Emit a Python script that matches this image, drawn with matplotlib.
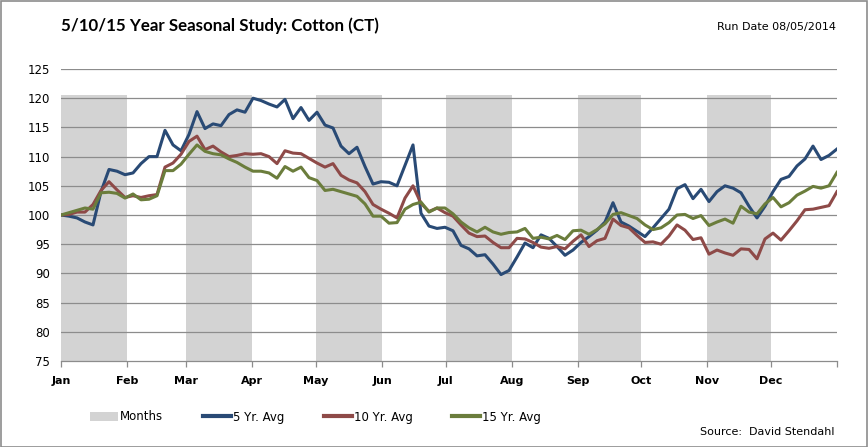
import numpy as np
import matplotlib
matplotlib.use("Agg")
import matplotlib.pyplot as plt
from matplotlib.patches import Rectangle

# ---------------- data ----------------
month_labels = ["Jan", "Feb", "Mar", "Apr", "May", "Jun",
                "Jul", "Aug", "Sep", "Oct", "Nov", "Dec"]
month_days = [31, 28, 31, 30, 31, 30, 31, 31, 30, 31, 30, 31]
shaded_months = ["Jan", "Mar", "May", "Jul", "Sep", "Nov"]
shade_level = 120.5

avg5 = [100.0, 99.8, 99.5, 98.8, 98.3, 104.0, 107.8, 107.5, 106.9, 107.2,
        108.8, 110.0, 110.0, 114.5, 112.0, 111.0, 113.8, 117.7, 114.8, 115.6,
        115.3, 117.2, 118.0, 117.6, 120.0, 119.6, 119.0, 118.5, 119.8, 116.5,
        118.4, 116.2, 117.6, 115.4, 114.9, 111.8, 110.5, 111.6, 108.3, 105.3,
        105.7, 105.6, 105.0, 108.5, 112.0, 100.3, 98.1, 97.7, 97.9, 97.3,
        94.8, 94.2, 93.0, 93.2, 91.6, 89.8, 90.5, 92.8, 95.2, 94.4,
        96.6, 96.0, 94.6, 93.1, 94.0, 95.3, 96.3, 97.4, 98.8, 102.1,
        98.8, 98.1, 97.2, 96.3, 97.8, 99.4, 101.0, 104.5, 105.2, 102.8,
        104.4, 102.3, 104.0, 105.0, 104.6, 103.8, 101.5, 99.5, 101.5, 104.0,
        106.1, 106.6, 108.4, 109.6, 111.8, 109.5, 110.2, 111.3]

avg10 = [100.0, 100.1, 100.5, 100.5, 101.8, 104.2, 105.7, 104.3, 103.0, 103.3,
         103.0, 103.3, 103.5, 108.2, 108.9, 110.4, 112.6, 113.5, 111.2, 111.8,
         110.8, 110.0, 110.2, 110.5, 110.4, 110.5, 110.0, 108.8, 111.0, 110.6,
         110.5, 109.7, 108.9, 108.2, 108.8, 106.8, 106.0, 105.5, 104.0, 101.8,
         101.0, 100.3, 99.5, 102.9, 105.0, 102.0, 100.6, 101.2, 100.4, 99.8,
         98.3, 96.9, 96.3, 96.4, 95.3, 94.4, 94.4, 96.0, 95.9, 95.3,
         94.5, 94.3, 94.6, 94.2, 95.5, 96.6, 94.6, 95.6, 96.0, 99.3,
         98.2, 97.8, 96.5, 95.3, 95.4, 95.0, 96.4, 98.3, 97.4, 95.8,
         96.1, 93.3, 94.0, 93.5, 93.1, 94.2, 94.1, 92.5, 95.9, 96.9,
         95.7, 97.3, 99.0, 100.9, 101.0, 101.3, 101.6, 104.0]

avg15 = [100.0, 100.4, 100.8, 101.2, 101.0, 103.8, 103.9, 103.7, 102.9, 103.6,
         102.6, 102.7, 103.3, 107.6, 107.6, 108.7, 110.4, 112.0, 110.9, 110.5,
         110.3, 109.6, 109.0, 108.2, 107.5, 107.5, 107.2, 106.3, 108.3, 107.5,
         108.2, 106.4, 105.9, 104.2, 104.4, 104.0, 103.6, 103.2, 101.9, 99.8,
         99.8, 98.6, 98.7, 101.0, 101.8, 102.2, 100.5, 101.2, 101.2, 100.2,
         98.8, 97.8, 97.1, 97.9, 97.1, 96.7, 97.0, 97.1, 97.7, 96.0,
         96.2, 95.9, 96.5, 95.8, 97.3, 97.4, 96.7, 97.5, 98.5, 100.1,
         100.4, 99.9, 99.4, 98.3, 97.5, 97.8, 98.7, 100.0, 100.1, 99.4,
         99.9, 98.2, 98.8, 99.3, 98.6, 101.5, 100.5, 100.2, 101.9, 103.0,
         101.4, 102.1, 103.4, 104.1, 104.9, 104.6, 105.0, 107.3]

series_names = ["5 Yr. Avg", "10 Yr. Avg", "15 Yr. Avg"]
series_colors = ["#294A75", "#8E4A48", "#6B7D3C"]

# ---------------- figure ----------------
W, H = 868, 447
fig = plt.figure(figsize=(W / 100, H / 100), dpi=100)
ax = fig.add_axes([61 / W, 1 - 361 / H, (837 - 61) / W, (361 - 69) / H])

month_starts = np.concatenate([[0], np.cumsum(month_days)[:-1]])
year_len = float(np.sum(month_days))
days = np.linspace(0, year_len, len(avg5))

# shaded month bars
sh_idx = [month_labels.index(m) for m in shaded_months]
ax.bar([month_starts[i] for i in sh_idx],
       [shade_level - 75] * len(sh_idx), bottom=75,
       width=[month_days[i] for i in sh_idx], align="edge",
       color="#D3D3D3", edgecolor="none", zorder=1, label="Months")

# gridlines
for v in range(80, 126, 5):
    ax.axhline(v, color="#8C8C8C", lw=0.9, zorder=2)

for vals, name, col in zip([avg5, avg10, avg15], series_names, series_colors):
    ax.plot(days, vals, color=col, lw=2.2, zorder=3, label=name,
            solid_joinstyle="round")

ax.set_xlim(0, year_len)
ax.set_ylim(75, 125)
ax.set_yticks(range(75, 126, 5))
ax.tick_params(axis="y", length=0, pad=8, labelsize=8.5, labelcolor="#000000")
ax.set_xticks(list(month_starts) + [year_len])
ax.set_xticklabels(month_labels + [""], fontweight="bold", fontsize=8)
ax.tick_params(axis="x", length=4, direction="out", color="#8C8C8C",
               width=0.9, pad=7)
for s in ["left", "right", "top"]:
    ax.spines[s].set_visible(False)
ax.spines["bottom"].set_color("#8C8C8C")
ax.spines["bottom"].set_linewidth(0.9)
ax.set_facecolor("white")

# titles
fig.text(61 / W, 1 - 26 / H, "5/10/15 Year Seasonal Study: Cotton (CT)",
         fontsize=12.2, family=["Lato", "DejaVu Sans"], fontweight="bold",
         ha="left", va="center", color="#000000")
fig.text(836 / W, 1 - 27 / H, "Run Date 08/05/2014",
         fontsize=8, ha="right", va="center")
fig.text(835 / W, 1 - 432 / H, "Source:  David Stendahl",
         fontsize=8, ha="right", va="center")

# legend
handles, labels = ax.get_legend_handles_labels()
order = [labels.index("Months")] + [labels.index(n) for n in series_names]
leg = fig.legend([handles[i] for i in order], [labels[i] for i in order],
                 loc="center left", bbox_to_anchor=(90 / W, 1 - 417 / H),
                 ncol=4, frameon=False, fontsize=8.5, handlelength=2.35,
                 handletextpad=0.2, columnspacing=3.35, borderpad=0,
                 borderaxespad=0)
for ln in leg.get_lines():
    ln.set_linewidth(3)

# outer border
fig.patches.append(Rectangle((0.5 / W, 0.5 / H), 1 - 1.5 / W, 1 - 1.5 / H,
                             transform=fig.transFigure, fill=False,
                             edgecolor="#8C8C8C", lw=1.2))

fig.savefig("out.png", dpi=100)
